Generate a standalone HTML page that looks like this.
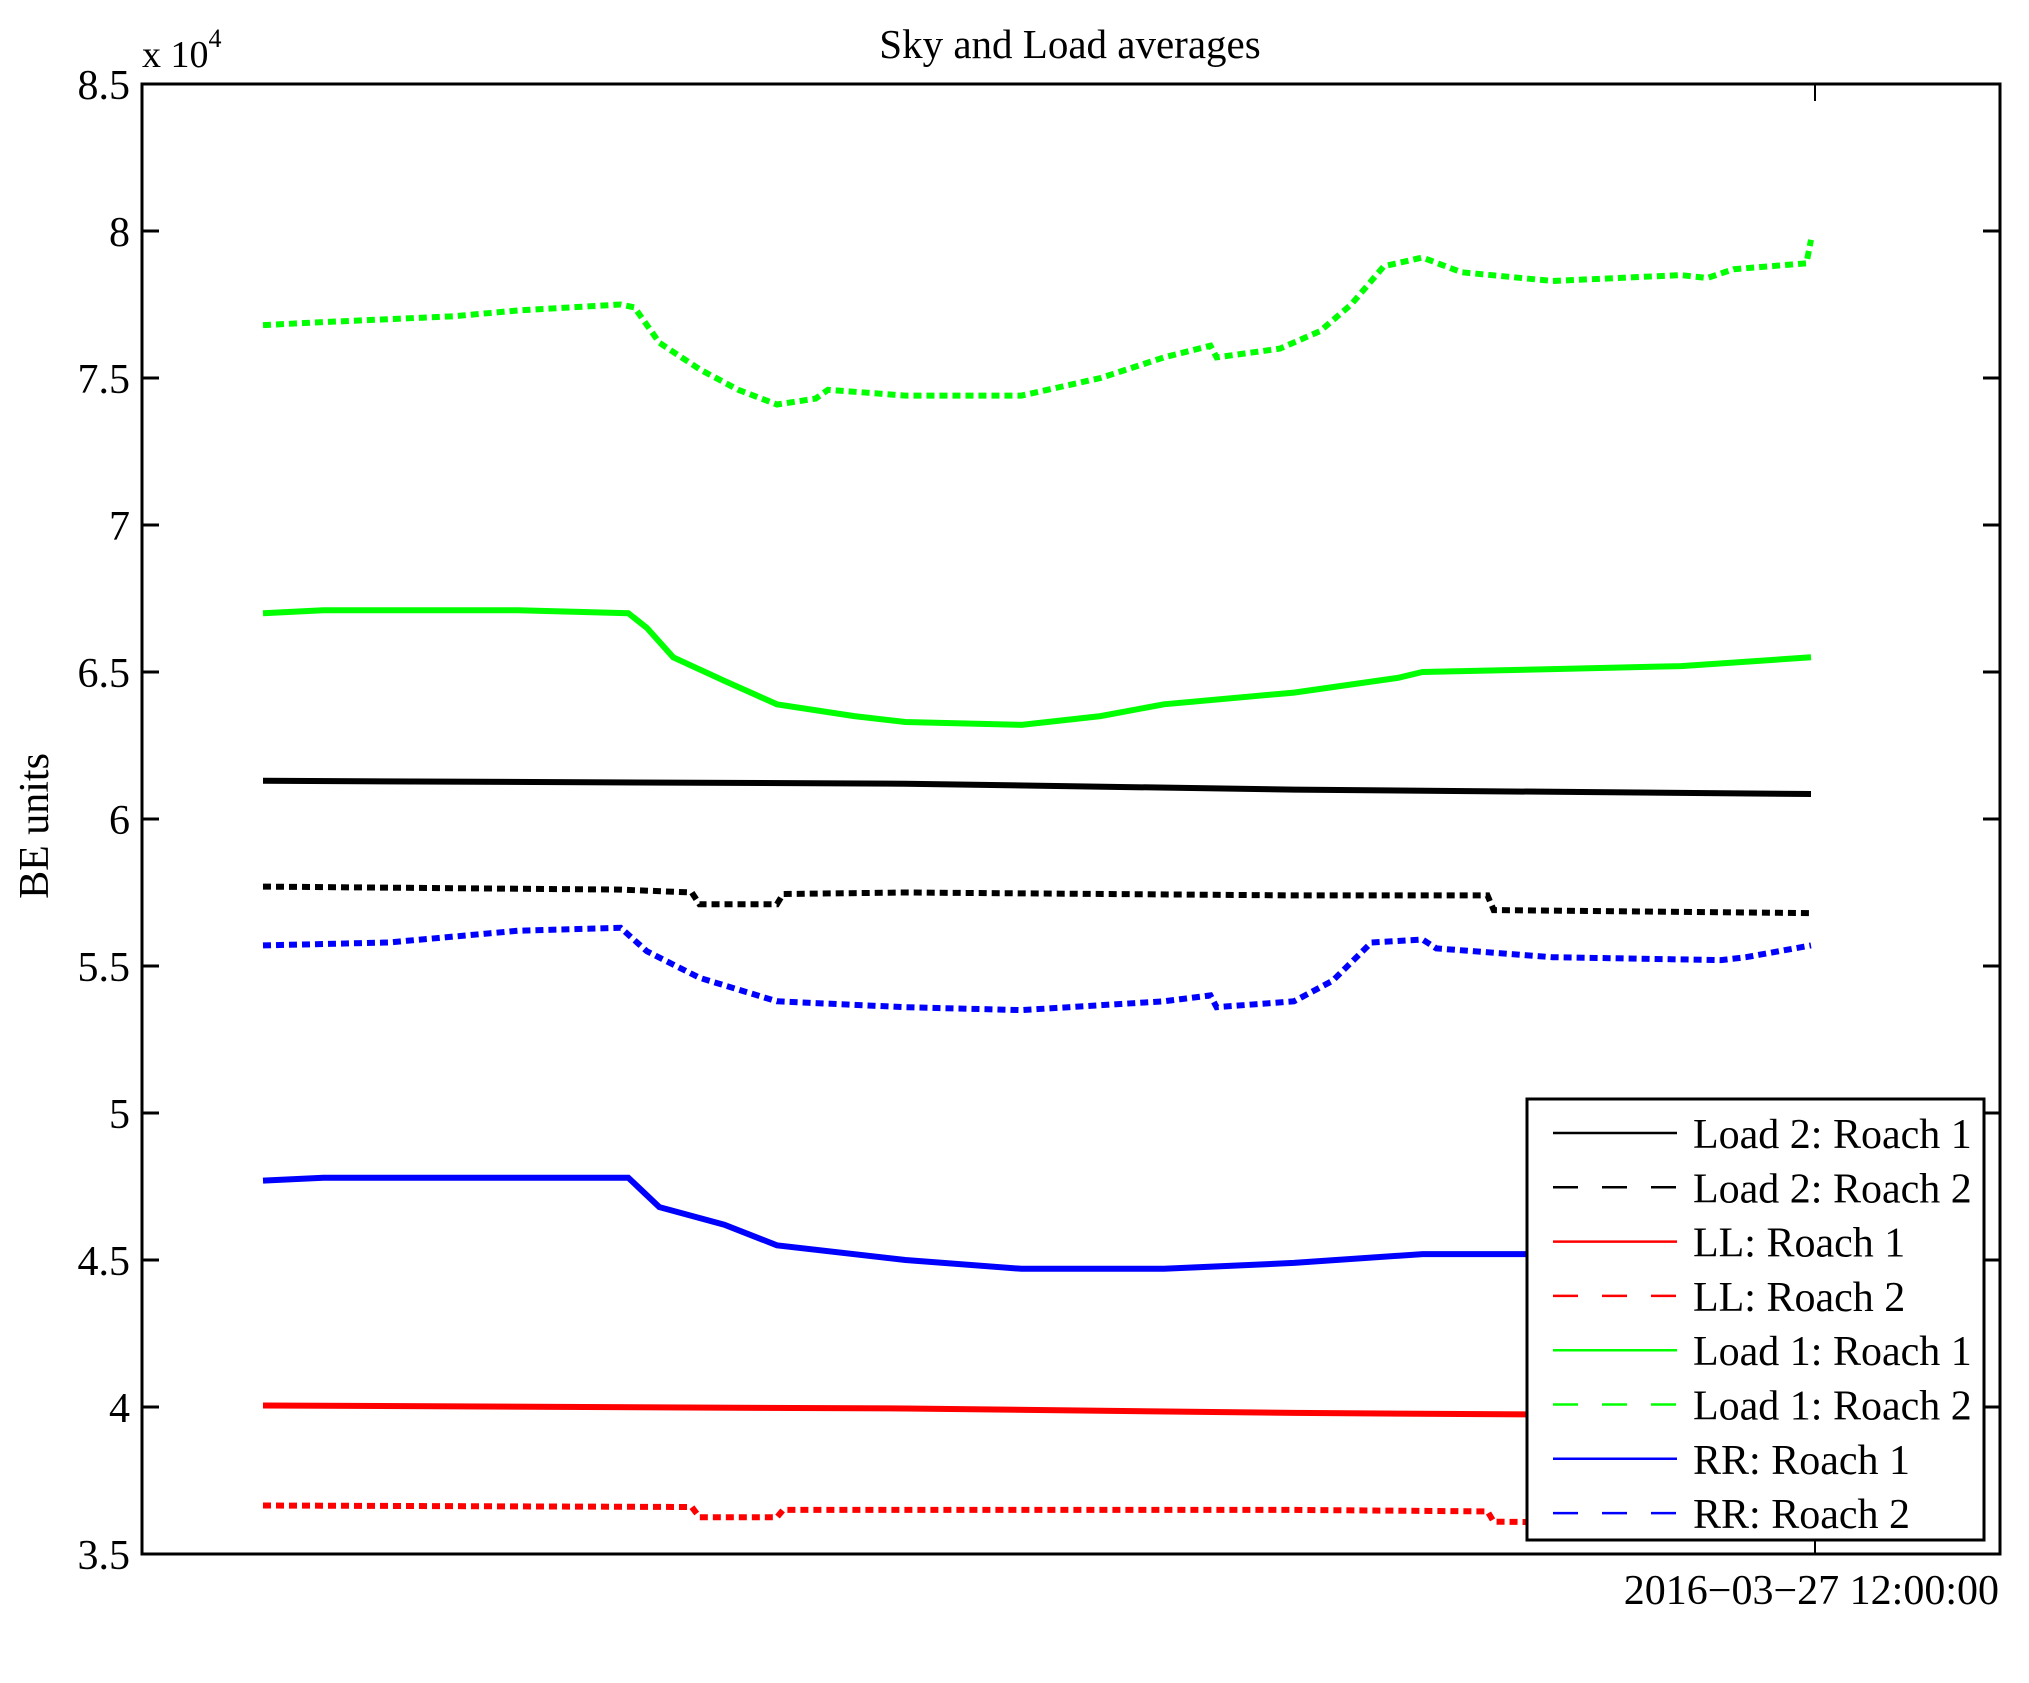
<!DOCTYPE html>
<html><head><meta charset="utf-8"><title>Sky and Load averages</title>
<style>
html,body{margin:0;padding:0;background:#fff;}
svg{display:block;font-family:"Liberation Serif",serif;}
</style></head>
<body>
<svg id="chart" width="2029" height="1683" viewBox="0 0 2029 1683" xmlns="http://www.w3.org/2000/svg">
<rect x="0" y="0" width="2029" height="1683" fill="#fff"/>
<text x="1070" y="58" font-size="41" text-anchor="middle">Sky and Load averages</text>
<text transform="translate(48,826) rotate(-90)" font-size="42" text-anchor="middle">BE units</text>
<text x="142" y="67" font-size="38">x 10<tspan dy="-20" font-size="26">4</tspan></text>
<text x="1999" y="1604" font-size="42" text-anchor="end">2016−03−27 12:00:00</text>
<g id="series"></g>
<g id="axes"></g>
<g id="legend"></g>
</svg>
<script>
// time as percent of plotted span
const t_l1r2 = [0,3.9,8.1,12.3,16.5,23.1,24.0,25.6,28.2,30.7,33.2,35.7,36.5,41.5,49.0,54.1,58.2,61.2,61.6,65.7,68.3,70.3,72.4,74.9,77.4,83.3,91.6,93.3,95.0,99.7,100];
const v_l1r2 = [7.68,7.69,7.70,7.71,7.73,7.75,7.74,7.62,7.53,7.46,7.41,7.43,7.46,7.44,7.44,7.50,7.57,7.61,7.57,7.60,7.66,7.75,7.88,7.91,7.86,7.83,7.85,7.84,7.87,7.89,7.97];
const t_l1r1 = [0,3.9,16.5,23.6,24.8,26.5,29.8,33.2,38.2,41.5,49.0,54.1,58.2,66.6,73.3,74.9,83.3,91.6,100];
const v_l1r1 = [6.70,6.71,6.71,6.70,6.65,6.55,6.47,6.39,6.35,6.33,6.32,6.35,6.39,6.43,6.48,6.50,6.51,6.52,6.55];
const t_l2r1 = [0,41.5,66.6,100];
const v_l2r1 = [6.13,6.12,6.10,6.085];
const t_l2r2 = [0,23.1,27.7,28.2,33.2,33.6,41.5,66.6,79.1,79.5,100];
const v_l2r2 = [5.77,5.76,5.75,5.71,5.71,5.745,5.75,5.74,5.74,5.69,5.68];
const t_rr2 = [0,8.1,16.5,23.1,24.8,28.2,33.2,41.5,49.0,58.2,61.2,61.6,66.6,69.1,71.6,74.9,75.8,83.3,94.2,95.8,100];
const v_rr2 = [5.57,5.58,5.62,5.63,5.55,5.46,5.38,5.36,5.35,5.38,5.40,5.36,5.38,5.45,5.58,5.59,5.56,5.53,5.52,5.53,5.57];
const t_rr1 = [0,3.9,23.6,25.6,29.8,33.2,41.5,49.0,58.2,66.6,74.9,100];
const v_rr1 = [4.77,4.78,4.78,4.68,4.62,4.55,4.50,4.47,4.47,4.49,4.52,4.52];
const t_ll1 = [0,41.5,66.6,81.6,100];
const v_ll1 = [4.005,3.995,3.98,3.975,3.97];
const t_ll2 = [0,27.7,28.2,33.2,33.6,66.6,79.1,79.5,100];
const v_ll2 = [3.665,3.66,3.625,3.625,3.65,3.65,3.645,3.61,3.60];
const yTicks = [3.5,4,4.5,5,5.5,6,6.5,7,7.5,8,8.5];
const yTickLabels = ["3.5","4","4.5","5","5.5","6","6.5","7","7.5","8","8.5"];
const legendLabels = ["Load 2: Roach 1","Load 2: Roach 2","LL: Roach 1","LL: Roach 2","Load 1: Roach 1","Load 1: Roach 2","RR: Roach 1","RR: Roach 2"];

const NS="http://www.w3.org/2000/svg";
const L=142,R=2000,T=84,B=1554,X0=263,X1=1811;
function xs(t){return X0+t/100*(X1-X0);}
function ys(v){return T+(8.5-v)/5*(B-T);}
function mk(tag,attrs,parent){const e=document.createElementNS(NS,tag);for(const k in attrs)e.setAttribute(k,attrs[k]);parent.appendChild(e);return e;}

const series=[
 {t:t_l2r1,v:v_l2r1,c:"#000",d:false,n:"load2-roach1-line"},
 {t:t_l2r2,v:v_l2r2,c:"#000",d:true,n:"load2-roach2-line"},
 {t:t_ll1,v:v_ll1,c:"#ff0000",d:false,n:"ll-roach1-line"},
 {t:t_ll2,v:v_ll2,c:"#ff0000",d:true,n:"ll-roach2-line"},
 {t:t_l1r1,v:v_l1r1,c:"#00ff00",d:false,n:"load1-roach1-line"},
 {t:t_l1r2,v:v_l1r2,c:"#00ff00",d:true,n:"load1-roach2-line"},
 {t:t_rr1,v:v_rr1,c:"#0000ff",d:false,n:"rr-roach1-line"},
 {t:t_rr2,v:v_rr2,c:"#0000ff",d:true,n:"rr-roach2-line"}
];
const sg=document.getElementById("series");
series.forEach(s=>{
 const pts=s.t.map((t,i)=>xs(t).toFixed(1)+","+ys(s.v[i]).toFixed(1)).join(" ");
 const p=mk("polyline",{points:pts,fill:"none",stroke:s.c,"stroke-width":6,"stroke-dasharray":s.d?"8,5":"none"},sg);
 
 
});

const ag=document.getElementById("axes");
const box=mk("rect",{x:L,y:T,width:R-L,height:B-T,fill:"none",stroke:"#000","stroke-width":3},ag);


yTicks.forEach((v,i)=>{
 const y=ys(v);
 const tl=mk("line",{x1:L,y1:y,x2:L+17,y2:y,stroke:"#000","stroke-width":3},ag);
 
 
 const tr=mk("line",{x1:R-17,y1:y,x2:R,y2:y,stroke:"#000","stroke-width":3},ag);
 
 
 const tx=mk("text",{x:130,y:y+15,"font-size":42,"text-anchor":"end"},ag);
 tx.textContent=yTickLabels[i];
 
 
});
const xb=mk("line",{x1:1815,y1:B,x2:1815,y2:B-17,stroke:"#000","stroke-width":2},ag);


const xt=mk("line",{x1:1815,y1:T,x2:1815,y2:T+17,stroke:"#000","stroke-width":2},ag);



const lg=document.getElementById("legend");
const lb=mk("rect",{x:1527,y:1099,width:457,height:441,fill:"#fff",stroke:"#000","stroke-width":3},lg);


series.forEach((s,i)=>{
 const y=1133+i*54.3;
 const ln=mk("line",{x1:1553,y1:y,x2:1677,y2:y,stroke:s.c,"stroke-width":2.5,"stroke-dasharray":s.d?"25,24":"none"},lg);
 
 
 const tx=mk("text",{x:1693,y:y+15,"font-size":42},lg);
 tx.textContent=legendLabels[i];
 
 
});
</script>
</body></html>
